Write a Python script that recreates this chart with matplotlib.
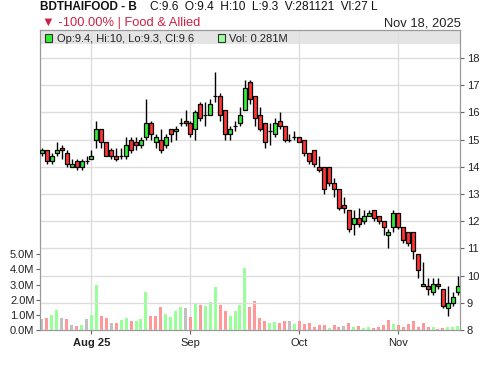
import numpy as np
import matplotlib.pyplot as plt
from matplotlib.patches import Rectangle

plt.rcParams['font.family'] = ['Liberation Sans', 'DejaVu Sans']

# daily OHLC (one bar per trading day, oldest first)
opens = [14.5, 14.6, 14.2, 14.5, 14.7, 14.5, 14.0, 14.2, 14.0, 14.2,
         14.3, 15.0, 15.4, 14.9, 14.6, 14.4, 14.4, 14.4, 15.0, 14.9,
         14.8, 15.1, 15.6, 14.9, 15.0, 14.8, 15.4, 15.3, 15.6, 15.7,
         15.6, 15.4, 16.3, 15.9, 15.9, 16.6, 16.6, 16.1, 15.2, 15.5,
         15.6, 16.1, 17.1, 16.6, 15.9, 15.6, 15.3, 15.2, 15.7, 15.5,
         15.0, 15.1, 15.1, 15.0, 14.5, 14.6, 14.0, 14.0, 14.0, 13.4,
         13.2, 12.6, 12.4, 11.9, 12.1, 12.0, 12.2, 12.4, 12.2, 12.0,
         11.5, 11.8, 12.3, 11.8, 11.6, 11.6, 10.8, 9.6, 9.6, 9.4,
         9.7, 9.5, 8.8, 9.0, 9.4]
highs = [14.7, 14.6, 14.5, 14.9, 14.8, 14.6, 14.3, 14.3, 14.3, 14.4,
         14.6, 15.7, 15.4, 14.9, 14.7, 14.7, 14.7, 15.1, 15.1, 15.1,
         15.1, 16.5, 15.7, 15.2, 15.4, 15.2, 15.4, 15.5, 15.8, 16.1,
         15.7, 16.1, 16.4, 16.4, 16.5, 17.5, 16.7, 16.1, 15.5, 15.7,
         16.2, 17.2, 17.2, 16.6, 16.2, 15.6, 15.6, 15.8, 16.0, 15.5,
         15.2, 15.3, 15.1, 15.0, 14.5, 14.6, 14.4, 14.0, 14.0, 13.6,
         13.2, 12.9, 12.4, 12.4, 12.5, 12.4, 12.4, 12.4, 12.2, 12.0,
         11.7, 12.4, 12.3, 11.8, 11.6, 11.6, 10.8, 10.5, 9.9, 9.9,
         9.9, 9.5, 9.6, 9.4, 10.0]
lows = [14.4, 14.1, 14.1, 14.4, 14.3, 14.0, 14.0, 13.9, 13.9, 14.1,
        14.3, 14.7, 14.7, 14.4, 14.3, 14.2, 14.3, 14.3, 14.5, 14.6,
        14.7, 15.0, 15.0, 14.7, 14.5, 14.7, 14.9, 15.0, 15.5, 15.5,
        15.1, 15.0, 15.7, 15.5, 15.9, 16.4, 15.7, 15.0, 15.0, 15.3,
        15.5, 16.1, 16.3, 15.5, 15.3, 14.7, 14.8, 15.1, 15.4, 14.9,
        14.9, 15.0, 14.9, 14.4, 14.1, 14.0, 13.8, 13.0, 13.3, 12.9,
        12.4, 12.3, 11.6, 11.5, 11.8, 11.9, 12.2, 12.0, 11.9, 11.5,
        11.0, 11.6, 11.7, 11.2, 11.1, 10.6, 9.9, 9.6, 9.3, 9.3,
        9.5, 8.8, 8.5, 8.9, 9.3]
closes = [14.6, 14.2, 14.4, 14.6, 14.6, 14.1, 14.1, 14.0, 14.2, 14.2,
          14.4, 15.4, 14.9, 14.4, 14.4, 14.3, 14.4, 14.8, 14.6, 14.8,
          15.0, 15.6, 15.2, 15.1, 14.6, 15.1, 15.2, 15.4, 15.6, 15.6,
          15.2, 16.0, 15.8, 15.9, 16.3, 16.6, 15.9, 15.2, 15.4, 15.5,
          15.9, 16.9, 16.5, 15.8, 15.4, 14.9, 15.3, 15.6, 15.5, 15.0,
          15.0, 15.1, 14.9, 14.5, 14.2, 14.1, 13.9, 13.2, 13.4, 13.2,
          12.5, 12.5, 11.7, 12.1, 11.9, 12.2, 12.3, 12.1, 12.0, 11.8,
          11.6, 12.3, 11.8, 11.3, 11.2, 10.9, 10.2, 9.7, 9.5, 9.7,
          9.6, 8.9, 9.0, 9.2, 9.6]
# volume in millions of shares
volumes = [0.73, 0.79, 0.99, 1.32, 0.79, 0.73, 0.33, 0.26, 0.33, 0.73,
           0.99, 2.97, 0.93, 0.79, 0.46, 0.46, 0.66, 0.79, 0.59, 0.59,
           0.73, 2.51, 0.93, 0.93, 1.52, 1.06, 0.86, 1.26, 1.52, 1.45,
           0.86, 1.72, 1.65, 1.59, 1.85, 2.84, 1.65, 1.26, 0.93, 1.26,
           1.65, 4.10, 1.53, 1.92, 0.79, 0.59, 0.46, 0.53, 0.46, 0.59,
           0.59, 0.40, 0.59, 0.40, 0.46, 0.20, 0.33, 0.33, 0.13, 0.33,
           0.20, 0.26, 0.46, 0.20, 0.26, 0.13, 0.20, 0.13, 0.20, 0.33,
           0.66, 0.40, 0.33, 0.20, 0.40, 0.59, 0.20, 0.46, 0.20, 0.20,
           0.07, 0.13, 0.20, 0.20, 0.281]

month_pos = [10, 30, 52, 72]
month_labels = ['Aug 25', 'Sep', 'Oct', 'Nov']
price_ticks = [8, 9, 10, 11, 12, 13, 14, 15, 16, 17, 18]
vol_ticks = [0, 1, 2, 3, 4, 5]

ticker = 'BDTHAIFOOD - B'
last_volume = 281121
change_text = '▼ -100.00% | Food & Allied'
date_text = 'Nov 18, 2025'

GREEN, RED = '#33ee33', '#ff3333'
VGREEN, VRED, VGRAY = '#99ff99', '#ff9999', '#c0c0c0'
GRID = '#dddddd'
SPINE = '#999999'

W, H = 500, 366
fig = plt.figure(figsize=(5, 3.66), dpi=100)
left, right, top, bottom = 40, 460, 30, 330
ax = fig.add_axes([left / W, 1 - bottom / H, (right - left) / W, (bottom - top) / H])
axp = ax.twinx()

x = np.arange(len(closes))
o, h, l, c = map(np.array, (opens, highs, lows, closes))

# volume coloured by change from previous close
diff = np.round(np.diff(c, prepend=c[0]), 2)
vcol = [VGREEN if d > 0 else VRED if d < 0 else VGRAY for d in diff]
ax.bar(x, volumes, width=0.6, color=vcol, zorder=2)
ax.set_ylim(0, 19.83)
ax.set_yticks(vol_ticks)
ax.set_yticklabels([f'{v:.1f}M' for v in vol_ticks])
ax.set_xlim(-0.4, 84.45)
ax.set_xticks(month_pos)
ax.set_xticklabels(month_labels)
ax.get_xticklabels()[0].set_fontweight('bold')
ax.grid(axis='x', color=GRID, lw=1)
ax.set_axisbelow(True)

# grey legend strip at the top of the plot (under the vertical grid)
strip_h = 14 / (bottom - top)
ax.add_patch(Rectangle((0, 1 - strip_h), 1, strip_h, transform=ax.transAxes,
                       facecolor='#e4e4e4', edgecolor='none', zorder=0.1))

# candles
ccol = [GREEN if cc > oo else RED if cc < oo else 'black' for oo, cc in zip(o, c)]
axp.vlines(x, l, h, color='black', lw=1, zorder=2)
axp.bar(x, np.abs(c - o), bottom=np.minimum(o, c), width=0.8,
        color=ccol, edgecolor='black', linewidth=0.9, zorder=3)
axp.set_ylim(8, 19.03)
axp.set_yticks(price_ticks)
axp.grid(axis='y', color=GRID, lw=1)
axp.set_axisbelow(True)

for a in (ax, axp):
    for s in a.spines.values():
        s.set_color(SPINE)
ax.tick_params(axis='y', length=3, pad=1, labelsize=8, color='#666666', labelcolor='#222222')
ax.tick_params(axis='x', length=3, pad=3, labelsize=8, color='#666666', labelcolor='#222222')
axp.tick_params(axis='y', length=3, pad=2, labelsize=8, color='#666666', labelcolor='#222222')


def px(xp, yp):
    return xp / W, 1 - yp / H


sq = 7
fig.add_artist(Rectangle(px(45, 41.5), sq / W, sq / H, facecolor=GREEN,
                         edgecolor='#333333', lw=0.8))
fig.text(*px(57, 38.5), f'Op:{o[-1]:g}, Hi:{h[-1]:g}, Lo:{l[-1]:g}, Cl:{c[-1]:g}',
         fontsize=8, va='center', color='#222222')
fig.add_artist(Rectangle(px(218, 41.5), sq / W, sq / H, facecolor=VGREEN,
                         edgecolor='#333333', lw=0.8))
fig.text(*px(229, 38.5), f'Vol: {volumes[-1]:.3f}M', fontsize=8, va='center', color='#222222')

# header
fig.text(*px(40, 10.5), ticker, fontsize=8.5, fontweight='bold', va='baseline', color='#111111')
fig.text(*px(150, 10.5),
         f'C:{c[-1]:g}  O:{o[-1]:g}  H:{h[-1]:g}  L:{l[-1]:g}  V:{last_volume}  Vl:27 L',
         fontsize=8.6, va='baseline', color='#111111')
fig.text(*px(42, 26), change_text, fontsize=9.3, va='baseline', color='#cc2244')
fig.text(*px(461, 26), date_text, fontsize=9.3, va='baseline', ha='right', color='#222222')

fig.savefig('out.png', dpi=100)
